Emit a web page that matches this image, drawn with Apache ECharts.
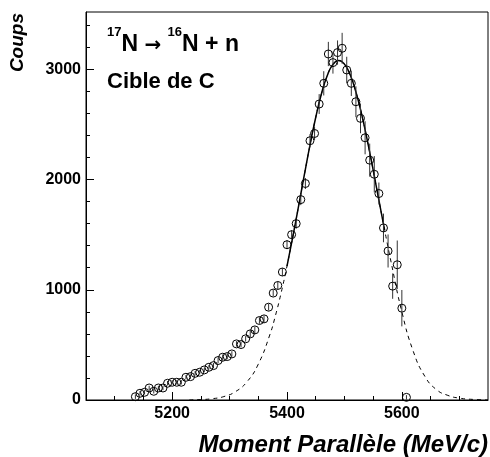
<!DOCTYPE html>
<html>
<head>
<meta charset="utf-8">
<script src="https://cdn.jsdelivr.net/npm/echarts@6/dist/echarts.min.js"></script>
<style>
html,body{margin:0;padding:0;background:#fff;}
#c{width:490px;height:457px;}
</style>
</head>
<body>
<div id="c"></div>
<script>
// Momentum bins (MeV/c)
const momentum = [5136, 5144, 5152, 5160, 5168, 5176, 5184, 5192, 5200, 5208,
  5216, 5224, 5232, 5240, 5248, 5256, 5264, 5272, 5280, 5288,
  5296, 5304, 5312, 5320, 5328, 5336, 5344, 5352, 5360, 5368,
  5376, 5384, 5392, 5400, 5408, 5416, 5424, 5432, 5440, 5448,
  5456, 5464, 5472, 5480, 5488, 5496, 5504, 5512, 5520, 5528,
  5536, 5544, 5552, 5560, 5568, 5576, 5584, 5592, 5600, 5608];
// Counts
const counts = [30, 61, 70, 109, 79, 109, 109, 152, 161, 161,
  161, 206, 212, 242, 252, 273, 297, 312, 358, 388,
  394, 418, 509, 503, 555, 600, 636, 721, 736, 842,
  970, 1039, 1161, 1409, 1500, 1600, 1818, 1964, 2352, 2418,
  2685, 2873, 3139, 3061, 3152, 3191, 2994, 2873, 2706, 2555,
  2379, 2176, 2048, 1873, 1561, 1352, 1033, 1227, 833, 24];
// Error half-lengths
const errors = [20, 20, 20, 20, 20, 20, 20, 20, 20, 20,
  20, 20, 20, 20, 20, 20, 20, 25, 25, 25,
  25, 25, 25, 25, 25, 30, 30, 30, 30, 30,
  30, 35, 35, 40, 40, 45, 50, 50, 60, 60,
  90, 110, 110, 100, 110, 140, 120, 115, 140, 135,
  150, 150, 165, 100, 130, 150, 115, 220, 165, 20];
// Fit curve (solid part)
const fitX = [5400, 5410, 5420, 5430, 5440, 5450, 5460, 5470, 5480, 5490,
  5500, 5510, 5520, 5530, 5540, 5550, 5560, 5570];
const fitY = [1215, 1478, 1755, 2037, 2312, 2563, 2778, 2942, 3045, 3080,
  3047, 2950, 2794, 2591, 2351, 2087, 1813, 1542];
// Fit curve extension (dashed)
const extX = [5230, 5250, 5270, 5290, 5310, 5330, 5350, 5370, 5380, 5390,
  5400, 5410, 5420, 5430, 5440, 5450, 5460, 5470, 5480, 5490,
  5500, 5510, 5520, 5530, 5540, 5550, 5560, 5570, 5580, 5600,
  5620, 5640, 5660, 5680, 5700, 5725, 5750];
const extY = [1, 4, 12, 31, 75, 163, 325, 590, 768, 977,
  1215, 1478, 1755, 2037, 2312, 2563, 2778, 2942, 3045, 3080,
  3047, 2950, 2794, 2591, 2351, 2087, 1813, 1542, 1283, 800,
  440, 215, 95, 42, 17, 5, 1];
// Ticks
const xMajor = [5200, 5400, 5600];
const xMinor = [5100, 5150, 5250, 5300, 5350, 5450, 5500, 5550, 5650, 5700];
const yMajor = [0, 1000, 2000, 3000];
const yMinor = [200, 400, 600, 800, 1200, 1400, 1600, 1800, 2200, 2400, 2600, 2800, 3200, 3400];

const FONT = 'Liberation Sans, Arial, Helvetica, sans-serif';
const chart = echarts.init(document.getElementById('c'), null, {renderer: 'canvas'});

const plain = v => String(v);

chart.setOption({
  animation: false,
  backgroundColor: '#fff',
  grid: {left: 86, right: 2, top: 12, bottom: 57, show: true, borderColor: '#000', borderWidth: 1},
  xAxis: [
    {type: 'value', min: 5050, max: 5750, splitLine: {show: false},
      axisLine: {show: true, lineStyle: {color: '#000', width: 1}},
      axisTick: {show: true, inside: true, length: 8, customValues: xMajor, lineStyle: {color: '#000', width: 1}},
      axisLabel: {show: true, customValues: xMajor, formatter: plain, color: '#000', fontFamily: FONT, fontWeight: 'bold', fontSize: 16, margin: 6}},
    {type: 'value', min: 5050, max: 5750, position: 'bottom', splitLine: {show: false},
      axisLine: {show: false},
      axisTick: {show: true, inside: true, length: 4, customValues: xMinor, lineStyle: {color: '#000', width: 1}},
      axisLabel: {show: false}}
  ],
  yAxis: [
    {type: 'value', min: 0, max: 3520, splitLine: {show: false},
      axisLine: {show: true, lineStyle: {color: '#000', width: 1}},
      axisTick: {show: true, inside: true, length: 8, customValues: yMajor, lineStyle: {color: '#000', width: 1}},
      axisLabel: {show: true, customValues: yMajor, formatter: plain, color: '#000', fontFamily: FONT, fontWeight: 'bold', fontSize: 16, margin: 5}},
    {type: 'value', min: 0, max: 3520, position: 'left', splitLine: {show: false},
      axisLine: {show: false},
      axisTick: {show: true, inside: true, length: 4, customValues: yMinor, lineStyle: {color: '#000', width: 1}},
      axisLabel: {show: false}}
  ],
  graphic: [
    {type: 'text', x: 18, y: 13, rotation: Math.PI / 2,
      style: {text: 'Coups', font: 'italic bold 19px ' + FONT, fill: '#000', align: 'right', verticalAlign: 'middle'}},
    {type: 'text', x: 488, y: 445,
      style: {text: 'Moment Parallèle (MeV/c)', font: 'italic bold 24px ' + FONT, fill: '#000', align: 'right', verticalAlign: 'middle'}},
    {type: 'text', x: 107, y: 26,
      style: {
        text: '{s|17}{b|N }{a|→}{b| }{s|16}{b|N + n}',
        align: 'left', verticalAlign: 'top',
        rich: {
          s: {fontFamily: FONT, fontWeight: 'bold', fontSize: 13, lineHeight: 14, verticalAlign: 'top', fill: '#000', color: '#000'},
          b: {fontFamily: FONT, fontWeight: 'bold', fontSize: 23, lineHeight: 30, verticalAlign: 'bottom', fill: '#000', color: '#000'},
          a: {fontFamily: 'DejaVu Sans', fontWeight: 'bold', fontSize: 20, lineHeight: 30, verticalAlign: 'bottom', fill: '#000', color: '#000'}
        }
      }},
    {type: 'text', x: 107, y: 82,
      style: {text: 'Cible de C', font: 'bold 22px ' + FONT, fill: '#000', align: 'left', verticalAlign: 'middle'}}
  ],
  series: [
    {
      type: 'line', xAxisIndex: 0, yAxisIndex: 0,
      data: extX.map((x, i) => [x, extY[i]]),
      smooth: true, showSymbol: false, symbol: 'none', clip: true,
      lineStyle: {color: '#000', width: 1, type: [4, 4]}, z: 2
    },
    {
      type: 'line', xAxisIndex: 0, yAxisIndex: 0,
      data: fitX.map((x, i) => [x, fitY[i]]),
      smooth: true, showSymbol: false, symbol: 'none', clip: true,
      lineStyle: {color: '#000', width: 1.5}, z: 3
    },
    {
      type: 'custom', xAxisIndex: 0, yAxisIndex: 0, clip: true,
      data: momentum.map((x, i) => [x, counts[i], errors[i]]),
      encode: {x: 0, y: 1},
      renderItem: function (params, api) {
        const x = api.value(0), y = api.value(1), e = api.value(2);
        const p1 = api.coord([x, y - e]);
        const p2 = api.coord([x, y + e]);
        return {type: 'line', shape: {x1: p1[0], y1: p1[1], x2: p2[0], y2: p2[1]}, style: {stroke: '#333', lineWidth: 1}};
      },
      z: 4
    },
    {
      type: 'scatter', xAxisIndex: 0, yAxisIndex: 0,
      data: momentum.map((x, i) => [x, counts[i]]),
      symbol: 'circle', symbolSize: 8, clip: true,
      itemStyle: {color: 'rgba(0,0,0,0)', borderColor: '#000', borderWidth: 1, opacity: 1},
      z: 5
    }
  ]
});
</script>
</body>
</html>
